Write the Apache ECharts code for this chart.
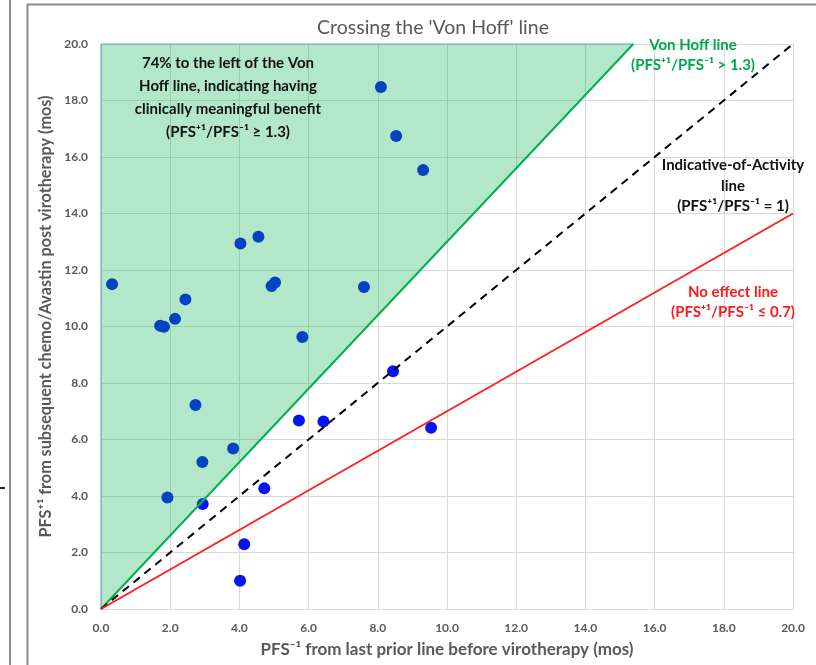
<!DOCTYPE html>
<html>
<head>
<meta charset="utf-8">
<script src="https://cdn.jsdelivr.net/npm/echarts@6/dist/echarts.min.js"></script>
<style>
html,body{margin:0;padding:0;background:#fff;}
#c{width:816px;height:665px;}
</style>
</head>
<body>
<div id="c"></div>
<script>
// ---- data ----
var chartTitle = "Crossing the 'Von Hoff' line";
var xAxisName = 'PFS\u207B\u00B9 from last prior line before virotherapy (mos)';
var yAxisName = 'PFS\u207A\u00B9 from subsequent chemo/Avastin post virotherapy (mos)';
var axisMin = 0, axisMax = 20, axisStep = 2;

// PFS-1 (x) and PFS+1 (y) per patient
var pfsPrior = [0.32, 1.71, 1.82, 2.14, 2.44, 4.03, 4.55, 4.93, 5.03, 5.82, 2.73, 3.82, 2.93, 1.92, 2.94, 5.72, 6.43, 4.72, 4.14, 4.02, 9.54, 8.09, 8.53, 9.31, 7.60, 8.44];
var pfsPost  = [11.50, 10.03, 9.99, 10.27, 10.96, 12.94, 13.18, 11.43, 11.56, 9.63, 7.22, 5.68, 5.20, 3.95, 3.72, 6.67, 6.64, 4.27, 2.29, 1.00, 6.42, 18.48, 16.74, 15.54, 11.40, 8.42];

// reference lines (end points)
var vonHoffLine  = [[0, 0], [15.385, 20]];   // ratio 1.3
var activityLine = [[0, 0], [20, 20]];       // ratio 1
var noEffectLine = [[0, 0], [20, 14]];       // ratio 0.7
var vonHoffArea  = [[0, 0], [0, 20], [15.385, 20]];

var points = pfsPrior.map(function (x, i) { return [x, pfsPost[i]]; });

var chart = echarts.init(document.getElementById('c'), null, {renderer: 'canvas'});
var FONT = 'Lato, "Open Sans", sans-serif';

var option = {
  backgroundColor: '#ffffff',
  animation: false,
  title: {
    text: chartTitle,
    left: 428, top: 13, textAlign: 'center',
    textStyle: {fontFamily: FONT, fontSize: 19.5, fontWeight: 'normal', color: '#595959'}
  },
  grid: {left: 101, right: 23, top: 44, bottom: 56},
  xAxis: {
    type: 'value', min: axisMin, max: axisMax, interval: axisStep,
    name: xAxisName, nameLocation: 'middle', nameGap: 32,
    nameTextStyle: {fontFamily: FONT, fontSize: 17, fontWeight: 'bold', color: '#595959'},
    axisLine: {show: true, lineStyle: {color: '#d9d9d9'}},
    axisTick: {show: false},
    axisLabel: {formatter: function (v) { return v.toFixed(1); }, fontFamily: FONT, fontSize: 12, fontWeight: 'bold', color: '#595959', margin: 13},
    splitLine: {show: true, lineStyle: {color: '#d9d9d9', width: 1}}
  },
  yAxis: {
    type: 'value', min: axisMin, max: axisMax, interval: axisStep,
    name: yAxisName, nameLocation: 'middle', nameGap: 40,
    nameTextStyle: {fontFamily: FONT, fontSize: 16.2, fontWeight: 'bold', color: '#595959', padding: [0, 0, 0, 20]},
    axisLine: {show: false},
    axisTick: {show: false},
    axisLabel: {formatter: function (v) { return v.toFixed(1); }, fontFamily: FONT, fontSize: 12, fontWeight: 'bold', color: '#595959', margin: 13},
    splitLine: {show: true, lineStyle: {color: '#d9d9d9', width: 1}}
  },
  series: [
    {
      type: 'scatter', data: points, symbolSize: 12, z: 2,
      itemStyle: {color: '#0514f2', opacity: 1}
    },
    {
      type: 'custom', z: 3, silent: true,
      data: [0],
      renderItem: function (params, api) {
        var pts = vonHoffArea.map(function (p) { return api.coord(p); });
        return {
          type: 'group',
          children: [
            {type: 'polygon', shape: {points: pts}, style: {fill: 'rgba(0,176,80,0.30)', stroke: null}},
            {type: 'polyline', shape: {points: [pts[2], pts[1], pts[0]]}, style: {fill: null, stroke: '#7f9fcf', lineWidth: 1.2}}
          ]
        };
      }
    },
    {
      type: 'line', data: vonHoffLine, z: 4, symbol: 'none',
      lineStyle: {color: '#00b050', width: 2}
    },
    {
      type: 'line', data: activityLine, z: 4, symbol: 'none',
      lineStyle: {color: '#000000', width: 2, type: [8, 6]}
    },
    {
      type: 'line', data: noEffectLine, z: 4, symbol: 'none',
      lineStyle: {color: '#ff2020', width: 2}
    }
  ],
  graphic: [
    {type: 'rect', shape: {x: 9, y: -5, width: 2, height: 680}, style: {fill: '#8c8c8c'}, silent: true},
    {type: 'rect', shape: {x: 27.5, y: 4.5, width: 800, height: 700}, style: {fill: null, stroke: '#8c8c8c', lineWidth: 2}, silent: true},
    {type: 'rect', shape: {x: 0, y: 487, width: 5, height: 2}, style: {fill: '#222'}, silent: true},
    {
      type: 'text', z: 10,
      style: {
        x: 228, y: 52, text: '74% to the left of the Von\nHoff line, indicating having\nclinically meaningful benefit\n(PFS\u207A\u00B9/PFS\u207B\u00B9 \u2265 1.3)',
        textAlign: 'center', fontFamily: FONT, fontSize: 15, fontWeight: 'bold', fill: '#111', lineHeight: 23
      }
    },
    {
      type: 'text', z: 10,
      style: {
        x: 693, y: 35, text: 'Von Hoff line\n(PFS\u207A\u00B9/PFS\u207B\u00B9 > 1.3)',
        textAlign: 'center', fontFamily: FONT, fontSize: 15, fontWeight: 'bold', fill: '#00a84c', lineHeight: 20
      }
    },
    {
      type: 'text', z: 10,
      style: {
        x: 733, y: 155, text: 'Indicative-of-Activity\nline\n(PFS\u207A\u00B9/PFS\u207B\u00B9 = 1)',
        textAlign: 'center', fontFamily: FONT, fontSize: 15, fontWeight: 'bold', fill: '#111', lineHeight: 20.5
      }
    },
    {
      type: 'text', z: 10,
      style: {
        x: 733, y: 282, text: 'No effect line\n(PFS\u207A\u00B9/PFS\u207B\u00B9 \u2264 0.7)',
        textAlign: 'center', fontFamily: FONT, fontSize: 15, fontWeight: 'bold', fill: '#ff1a1a', lineHeight: 20
      }
    }
  ]
};
chart.setOption(option);
</script>
</body>
</html>
